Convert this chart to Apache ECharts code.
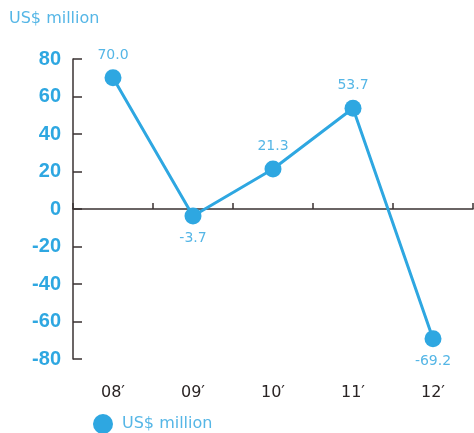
<!DOCTYPE html>
<html>
<head>
<meta charset="utf-8">
<script src="https://cdn.jsdelivr.net/npm/echarts@6/dist/echarts.min.js"></script>
<style>html,body{margin:0;padding:0;background:#fff;}#c{width:474px;height:433px;}</style>
</head>
<body>
<div id="c"></div>
<script>
var categories = ["08\u2032", "09\u2032", "10\u2032", "11\u2032", "12\u2032"];
var values = [70.0, -3.7, 21.3, 53.7, -69.2];
var labelPositions = ["top", "bottom", "top", "top", "bottom"];
var yTicks = [-80, -60, -40, -20, 0, 20, 40, 60, 80];
var seriesName = "US$ million";
var unitTitle = "US$ million";

var blue = "#2ea7e1";
var lightBlue = "#55b6e6";
var chart = echarts.init(document.getElementById("c"));
var data = values.map(function (v, i) {
  return { value: v, label: { position: labelPositions[i] } };
});
chart.setOption({
  animation: false,
  title: {
    text: unitTitle, left: 4, top: 6,
    textStyle: { color: lightBlue, fontSize: 16, fontWeight: "normal", fontFamily: "DejaVu Sans" }
  },
  legend: {
    data: [seriesName], left: 88, top: 409, icon: "circle", itemWidth: 20, itemHeight: 20,
    textStyle: { color: lightBlue, fontSize: 16, fontFamily: "DejaVu Sans", padding: [0, 0, 0, 4] }
  },
  grid: { left: 73, right: 1, top: 59, bottom: 74 },
  xAxis: [
    {
      type: "category", data: categories, boundaryGap: true,
      axisLine: { onZero: true, lineStyle: { color: "#3a3232", width: 1.5 } },
      axisTick: { show: true, inside: true, length: 6, lineStyle: { color: "#3a3232", width: 1.5 } },
      axisLabel: { show: false }, splitLine: { show: false }
    },
    {
      type: "category", data: categories, position: "bottom", boundaryGap: true,
      axisLine: { show: false, onZero: false }, axisTick: { show: false },
      axisLabel: { show: true, margin: 26, color: "#2a2424", fontSize: 16, fontFamily: "DejaVu Sans" },
      splitLine: { show: false }
    }
  ],
  yAxis: {
    type: "value", min: yTicks[0], max: yTicks[yTicks.length - 1], interval: 20,
    axisLine: { show: true, lineStyle: { color: "#3a3232", width: 1.5 } },
    axisTick: { show: true, inside: true, length: 9, lineStyle: { color: "#3a3232", width: 1.5 } },
    axisLabel: { color: blue, fontSize: 20, fontWeight: "bold", fontFamily: "Liberation Sans", margin: 12 },
    splitLine: { show: false }
  },
  series: [{
    name: seriesName, type: "line", xAxisIndex: 0, data: data,
    symbol: "circle", symbolSize: 17,
    lineStyle: { color: blue, width: 3 },
    itemStyle: { color: blue },
    label: { show: true, color: lightBlue, fontSize: 14, fontFamily: "DejaVu Sans", distance: 7,
      formatter: function (p) { return p.value.toFixed(1); } }
  }]
});
</script>
</body>
</html>
